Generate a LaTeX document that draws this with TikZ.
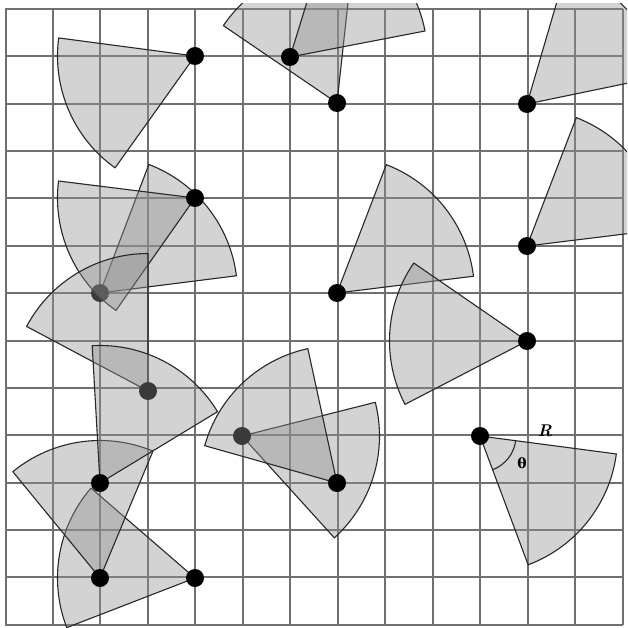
\documentclass[tikz,border=0pt]{standalone}
\usepackage{fontspec}
\newfontfamily\dvs{DejaVu Serif}
\definecolor{gridc}{RGB}{112,112,112}
\definecolor{edgec}{RGB}{40,40,40}
\definecolor{fillc}{RGB}{145,145,145}
\tikzset{
  gridline/.style={draw=gridc, line width=1.8pt},
  sector/.style={fill=fillc, fill opacity=0.4, draw=edgec, line width=1.1pt, line join=round},
  sensordot/.style={circle, fill=black, inner sep=0pt, minimum size=18pt},
}
\newcommand{\sensorat}[4]{%
  \coordinate (#1) at (#2,-#3);
  \path[sector] (#1) -- ++(#4:137.5pt) arc[start angle=#4, end angle={#4+62}, radius=137.5pt] -- cycle;
  \node[sensordot] (#1dot) at (#1) {};
}
\begin{document}
\begin{tikzpicture}[x=1pt,y=1pt]
\useasboundingbox (0,0) rectangle (627,-628);
\fill[white] (0,0) rectangle (627,-628);
% grid
\foreach \i in {0,...,13} {
  \pgfmathsetmacro{\gx}{round(5.5+\i*47.48)}
  \pgfmathsetmacro{\gy}{-round(9+\i*47.36)}
  \draw[gridline] (\gx,-9) -- (\gx,-625);
  \draw[gridline] (5,\gy) -- (623,\gy);
}
\begin{scope}
\clip (0,-4) rectangle (627,-628);
\sensorat{s1}{195}{56}{172.45}
\sensorat{s3}{337}{103}{83.75}
\sensorat{s2}{290}{57}{10.9}
\sensorat{s4}{527}{104}{11.7}
\sensorat{s6}{100}{293}{7.2}
\sensorat{s5}{195}{198}{172.9}
\sensorat{s7}{337}{293}{7}
\sensorat{s8}{527}{246}{7}
\sensorat{s9}{527}{341}{145.45}
\sensorat{s10}{148}{391}{90}
\sensorat{s11}{242}{436}{-47.8}
\sensorat{s12}{337}{483}{102.25}
\sensorat{s14}{195}{578}{139.15}
\sensorat{s13}{100}{578}{67.35}
\sensorat{s15}{100}{483}{31.25}
\sensorat{s16}{480}{436}{-69.5}
\end{scope}
% angle mark and labels
\draw[edgec, line width=1.1pt] ([shift={(-69.5:36pt)}]s16) arc[start angle=-69.5, end angle=-7.5, radius=36pt];
\node (rlabel) at (545,-431) {\fontsize{17}{20}\selectfont\bfseries\itshape R};
\node (tlabel) at (522,-463) {\dvs\bfseries\fontsize{14}{17}\selectfont θ};
\end{tikzpicture}
\end{document}
